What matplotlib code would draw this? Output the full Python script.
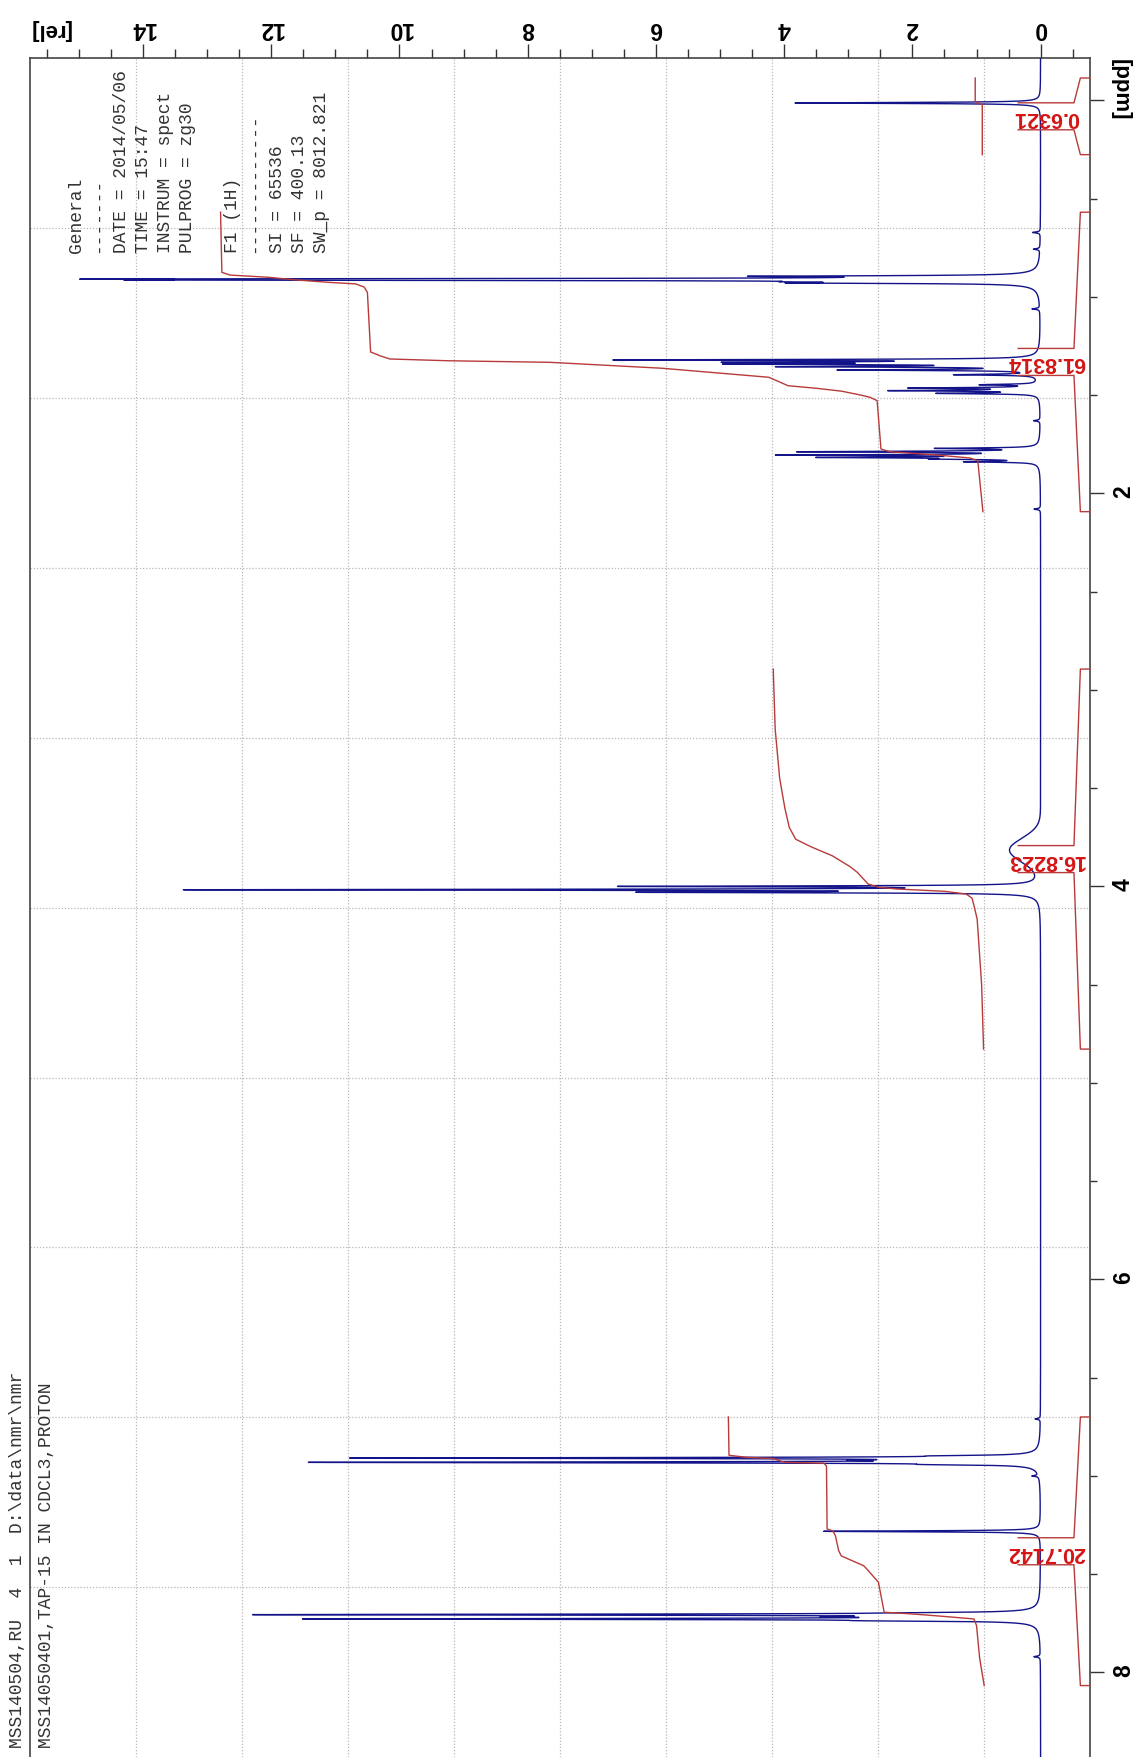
import matplotlib
matplotlib.use('Agg')

import matplotlib.pyplot as plt
from matplotlib.ticker import MultipleLocator, FuncFormatter
import numpy as np

# --- peak list: position [ppm] and tip height [rel]
peak_ppm = [0.013,
            0.895, 0.900, 0.909, 0.914, 0.923, 0.929,
            1.321, 1.333, 1.342, 1.355, 1.372, 1.396,
            1.447, 1.464, 1.477, 1.491,
            1.771, 1.788, 1.805, 1.817, 1.825, 1.839,
            4.000, 4.017, 4.030,
            6.898, 6.909, 6.920, 6.931, 6.942,
            7.282,
            7.697, 7.706, 7.717, 7.728, 7.737]
peak_height = [3.83,
               3.65, 0.40, 11.70, 10.60, 1.85, 2.90,
               6.30, 4.10, 4.20, 3.70, 2.95, 1.25,
               0.85, 1.90, 2.20, 1.50,
               1.50, 3.60, 3.80, 3.07, 1.20, 1.05,
               6.15, 12.90, 5.60,
               0.90, 10.40, 1.50, 11.05, 1.00,
               3.38,
               1.00, 11.85, 1.80, 11.00, 1.60]

# small blips on the baseline
blip_ppm = [0.672, 0.757, 1.061, 1.630, 2.080, 6.710, 7.000, 7.920]
blip_height = [0.12, 0.10, 0.12, 0.10, 0.10, 0.08, 0.10, 0.10]

# broad hump under the 3.8 ppm region
hump_ppm = [3.815]
hump_height = [0.48]
hump_sigma = [0.06]

# --- integral curves (ppm, rel)
int1_ppm = [-0.114, 0.005, 0.013, 0.022, 0.276]
int1_val = [1.02, 1.02, 0.97, 0.91, 0.91]

int2_ppm = [0.569, 0.875, 0.889, 0.900, 0.914, 0.926, 0.934, 0.950, 0.977,
            1.280, 1.300, 1.316, 1.325, 1.333, 1.363, 1.409, 1.426, 1.452,
            1.465, 1.480, 1.500, 1.511, 1.528, 1.774, 1.788, 1.805, 1.820,
            1.834, 2.093]
int2_val = [12.79, 12.77, 12.64, 12.05, 11.60, 11.10, 10.68, 10.55, 10.50,
            10.45, 10.30, 10.15, 9.24, 7.65, 5.91, 4.24, 4.12, 3.94,
            3.50, 3.10, 2.80, 2.66, 2.55, 2.49, 2.35, 1.60, 1.10,
            0.98, 0.90]

int3_ppm = [2.894, 3.200, 3.450, 3.600, 3.700, 3.760, 3.800, 3.844, 3.900,
            3.928, 3.988, 4.005, 4.013, 4.025, 4.039, 4.060, 4.097, 4.166,
            4.500, 4.828]
int3_val = [4.17, 4.14, 4.07, 3.99, 3.92, 3.82, 3.57, 3.25, 2.97,
            2.86, 2.69, 2.52, 2.25, 1.50, 1.16, 1.07, 1.04, 0.99,
            0.92, 0.89]

int4_ppm = [6.700, 6.895, 6.905, 6.912, 6.931, 6.935, 6.950, 7.270, 7.280,
            7.305, 7.380, 7.407, 7.430, 7.457, 7.474, 7.541, 7.694, 7.702,
            7.715, 7.728, 7.761, 7.930, 8.067]
int4_val = [4.87, 4.86, 4.60, 4.17, 3.99, 3.38, 3.34, 3.33, 3.24,
            3.20, 3.15, 3.11, 2.95, 2.76, 2.71, 2.53, 2.44, 2.02,
            1.51, 1.04, 1.00, 0.95, 0.88]

int_labels = ['0.6321', '61.8314', '16.8223', '20.7142']
int_ranges = [(-0.114, 0.276), (0.569, 2.093), (2.894, 4.828), (6.700, 8.067)]

header_lines = ['General', '-------', 'DATE = 2014/05/06', 'TIME = 15:47',
                'INSTRUM = spect', 'PULPROG = zg30', '', 'F1 (1H)',
                '-------------', 'SI = 65536', 'SF = 400.13',
                'SW_p = 8012.821']
footer_lines = ['MSS140504,RU  4  1  D:\\data\\nmr\\nmr',
                'MSS14050401,TAP-15 IN CDCL3,PROTON']

# ----------------------------------------------------------------------
W, H = 1133, 1758
fig = plt.figure(figsize=(W / 100, H / 100), dpi=100)
ax = fig.add_axes([29.5 / W, 0, 1060.3 / W, 1698.7 / H])

# spectrum from the peak list (lorentzian lines + broad hump)
ppm = np.round(np.arange(-0.25, 8.5, 0.0005), 4)
spec = np.zeros_like(ppm)
lw_hw = 0.003
for p, h in zip(peak_ppm + blip_ppm, peak_height + blip_height):
    spec += h * lw_hw ** 2 / ((ppm - p) ** 2 + lw_hw ** 2)
for p, h, s in zip(hump_ppm, hump_height, hump_sigma):
    spec += h * np.exp(-(ppm - p) ** 2 / (2 * s ** 2))

blue = '#14148a'
red_line = '#b83a3a'
red_text = '#d41515'

ax.plot(spec, ppm, color=blue, lw=1.0, zorder=3)

for ip, iv in [(int1_ppm, int1_val), (int2_ppm, int2_val),
               (int3_ppm, int3_val), (int4_ppm, int4_val)]:
    ax.plot(iv, ip, color=red_line, lw=1.0, zorder=4)

# integral brackets and values on the right
x_frame, x_out, x_in, x_lab = -0.767, -0.62, -0.52, 0.35
half = 0.0687
for lab, (a, b) in zip(int_labels, int_ranges):
    c = (a + b) / 2
    ax.plot([x_frame, x_out, x_in, x_lab], [a, a, c - half, c - half],
            color=red_line, lw=1.0, clip_on=False, zorder=4)
    ax.plot([x_frame, x_out, x_in, x_lab], [b, b, c + half, c + half],
            color=red_line, lw=1.0, clip_on=False, zorder=4)
    ax.text((x_in + x_lab) / 2, c, lab, rotation=180, ha='center', va='center',
            color=red_text, fontsize=15.5, fontweight='bold',
            family='Liberation Sans', zorder=5)

ax.set_xlim(15.77, -0.767)
ax.set_ylim(8.4305, -0.2142)

# dotted grid: ten equal divisions of the frame
for k in range(1, 10):
    ax.plot([k / 10, k / 10], [0, 1], transform=ax.transAxes,
            color='#b8b8b8', lw=0.9, ls=(0, (1, 1.5)), zorder=1)
    ax.plot([0, 1], [k / 10, k / 10], transform=ax.transAxes,
            color='#b8b8b8', lw=0.9, ls=(0, (1, 1.5)), zorder=1)

# axes: intensity on top, chemical shift on the right
ax.xaxis.tick_top()
ax.yaxis.tick_right()
ax.xaxis.set_major_locator(MultipleLocator(2))
ax.xaxis.set_minor_locator(MultipleLocator(0.5))
ax.yaxis.set_major_locator(MultipleLocator(2))
ax.yaxis.set_minor_locator(MultipleLocator(0.5))
ax.xaxis.set_major_formatter(FuncFormatter(lambda v, pos: f'{v:.0f}'))
ax.yaxis.set_major_formatter(FuncFormatter(lambda v, pos: '' if abs(v) < 1e-6 else f'{v:.0f}'))
ax.tick_params(axis='x', which='major', length=10, width=1, color='#333333',
               pad=4, labelrotation=180, labelsize=16.5)
ax.tick_params(axis='x', which='minor', length=6.5, width=1, color='#333333')
ax.tick_params(axis='y', which='major', length=10, width=1, color='#333333',
               pad=6, labelrotation=90, labelsize=16.5)
ax.tick_params(axis='y', which='minor', length=5, width=1, color='#333333')
for lbl in ax.get_xticklabels() + ax.get_yticklabels():
    lbl.set_fontweight('bold')
    lbl.set_family('Liberation Sans')
for side in ['top', 'left', 'right']:
    ax.spines[side].set_color('#444444')
    ax.spines[side].set_linewidth(1.2)
ax.spines['bottom'].set_visible(False)

ax.text(1.0285, 0.982, '[ppm]', transform=ax.transAxes, rotation=270,
        ha='center', va='center', fontsize=16, fontweight='bold',
        family='Liberation Sans')
fig.text(50 / W, 1 - 29.5 / H, '[rel]', rotation=180, ha='center', va='center',
         fontsize=16, fontweight='bold', family='Liberation Sans')

# parameter block and file names
for i, line in enumerate(header_lines):
    if line:
        fig.text((76.5 + 22.3 * i) / W, 1 - 253 / H, line, rotation=90,
                 rotation_mode='anchor', ha='left', va='center',
                 fontsize=13, family='Liberation Mono', color='#333333')
for x, line in zip([17.5, 47], footer_lines):
    fig.text(x / W, 1 - 1748 / H, line, rotation=90, rotation_mode='anchor',
             ha='left', va='center', fontsize=13, family='Liberation Mono',
             color='#333333')

fig.savefig('out.png', dpi=100)
